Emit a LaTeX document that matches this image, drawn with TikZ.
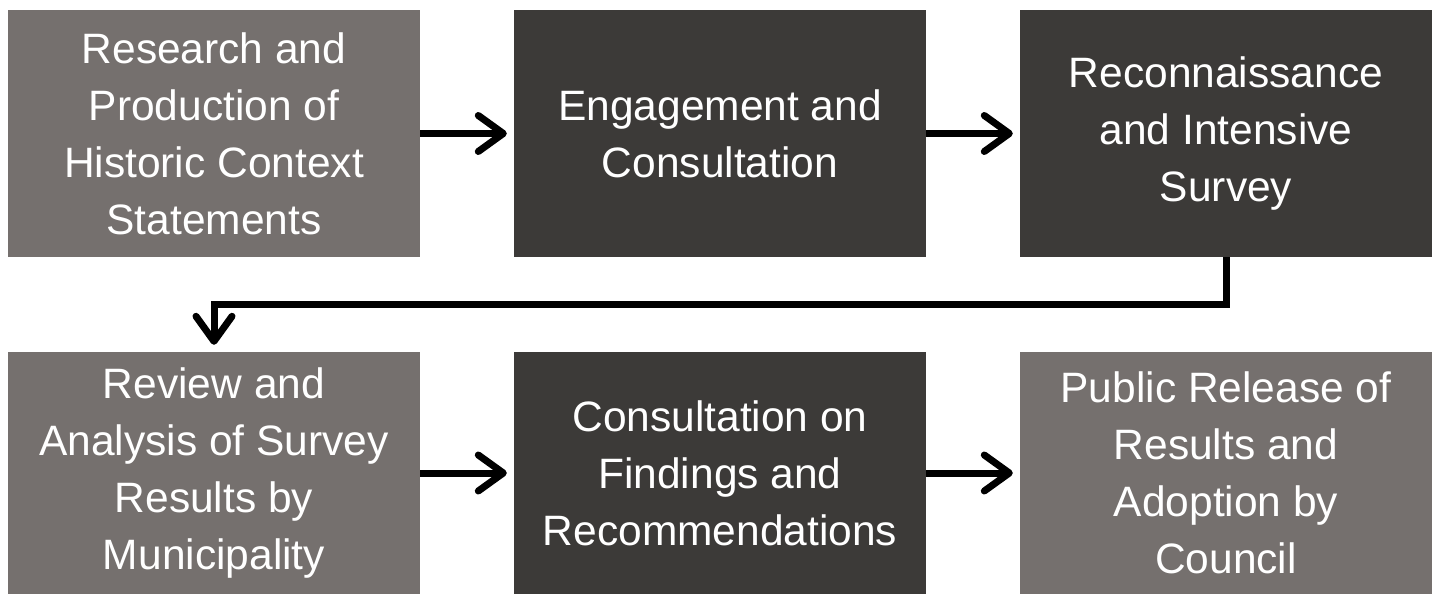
\documentclass[tikz,border=0pt]{standalone}
\usepackage{fontspec}
\setmainfont{Liberation Sans}
\usetikzlibrary{arrows.meta}
\definecolor{boxlight}{RGB}{117,112,110}
\definecolor{boxdark}{RGB}{60,58,56}
\tikzset{
  stage/.style={draw=none, text=white, minimum width=412pt, inner sep=0pt,
    align=center, font=\fontsize{42.5}{57}\selectfont},
  light/.style={stage, fill=boxlight},
  dark/.style={stage, fill=boxdark},
  flow/.style={line width=7pt, shorten >=7pt,
    -{Straight Barb[length=25pt, width=36pt, line width=7pt, round]}}
}
\begin{document}
\begin{tikzpicture}[x=1pt,y=-1pt]
\useasboundingbox (0,0) rectangle (1439,594);
\node[light, minimum height=247pt] (a) at (214,133.5) {Research and\\Production of\\Historic Context\\Statements};
\node[dark, minimum height=247pt] (b) at (720,133.5) {Engagement and\\Consultation};
\node[dark, minimum height=247pt] (c) at (1226,133.5) {Reconnaissance\\and Intensive\\Survey};
\node[light, minimum height=242pt] (d) at (214,473) {Review and\\Analysis of Survey\\Results by\\Municipality};
\node[dark, minimum height=242pt] (e) at (720,473) {Consultation on\\Findings and\\Recommendations};
\node[light, minimum height=242pt] (f) at (1226,473) {Public Release of\\Results and\\Adoption by\\Council};
\draw[flow] (a.east) -- (b.west);
\draw[flow] (b.east) -- (c.west);
\draw[flow] (d.east) -- (e.west);
\draw[flow] (e.east) -- (f.west);
\draw[flow] (c.south) -- ++(0,47.5) -| (d.north);
\end{tikzpicture}
\end{document}
